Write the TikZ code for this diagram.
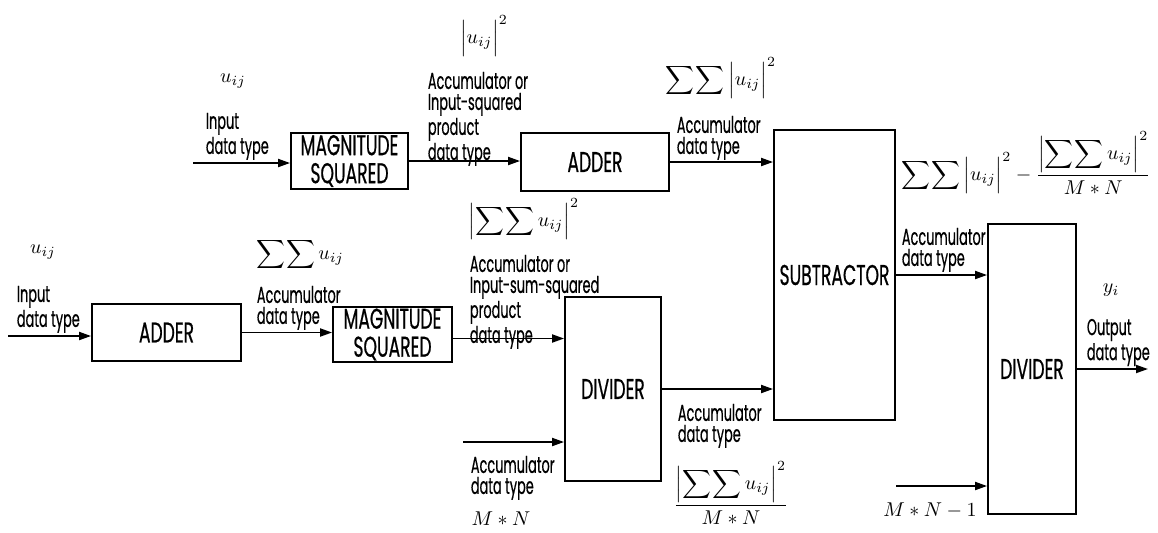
\documentclass[tikz,border=0pt]{standalone}
\usepackage{amsmath}
\usepackage{fontspec}
\newfontfamily\blockfont[FakeStretch=0.6,FakeBold=0.6]{Poppins}
\newfontfamily\notefont[FakeStretch=0.56,FakeBold=0.5]{Poppins}
\usetikzlibrary{arrows.meta}
\newcommand\absq[1]{\left|\vrule height 12pt depth 6.5pt width 0pt #1\right|^2}
\newcommand\ssum{\sum\mkern-2mu\sum}

\begin{document}
\begin{tikzpicture}[x=0.5pt,y=-0.5pt,line width=0.9pt,
  block/.style={draw,inner sep=0pt,align=center,font=\blockfont\fontsize{14.3}{14}\selectfont},
  lbl/.style={anchor=north west,inner sep=0pt,align=left,font=\notefont\fontsize{11.5}{10.5}\selectfont},
  eqn/.style={inner sep=0pt,font=\fontsize{10.3}{12}\selectfont},
  flow/.style={-{Triangle[length=6pt,width=4pt]}}]
\useasboundingbox (0,0) rectangle (1158,532);

\node[block,minimum width=58.5pt,minimum height=28pt] (mag1) at (349.5,161) {MAGNITUDE\\SQUARED};
\node[block,minimum width=74pt,minimum height=29pt] (add1) at (595,162) {ADDER};
\node[block,minimum width=60.5pt,minimum height=145pt] (sub) at (834.5,275) {SUBTRACTOR};
\node[block,minimum width=44pt,minimum height=145pt] (div2) at (1032,369) {DIVIDER};
\node[block,minimum width=74.5pt,minimum height=28.5pt] (add2) at (166.5,332.5) {ADDER};
\node[block,minimum width=59.5pt,minimum height=27.5pt] (mag2) at (392.5,334.5) {MAGNITUDE\\SQUARED};
\node[block,minimum width=48pt,minimum height=92pt] (div1) at (613,389) {DIVIDER};

\coordinate (in1) at (193,163);
\coordinate (in2) at (8,336);
\coordinate (mnin) at (463,442);
\coordinate (mn1in) at (896,486);
\coordinate (out) at (1148,369);

\draw[flow] (in1) -- (in1 -| mag1.west);
\draw[flow] (mag1.east) -- (mag1.east -| add1.west);
\draw[flow] (add1.east) -- (add1.east -| sub.west);
\draw[flow] (in2) -- (in2 -| add2.west);
\draw[flow] (add2.east) -- (add2.east -| mag2.west);
\draw[flow] ([yshift=-2pt]mag2.east) -- ([yshift=-2pt]mag2.east -| div1.west);
\draw[flow] (mnin) -- (mnin -| div1.west);
\draw[flow] (div1.east) -- (div1.east -| sub.west);
\draw[flow] (sub.east) -- (sub.east -| div2.west);
\draw[flow] (mn1in) -- (mn1in -| div2.west);
\draw[flow] (div2.east) -- (out);

\node[lbl] (t1) at (205,112) {Input\\data type};
\node[lbl] (t2) at (427,71) {Accumulator or\\Input-squared\\product\\data type};
\node[lbl] (t3) at (676,115) {Accumulator\\data type};
\node[lbl] (t4) at (16,285) {Input\\data type};
\node[lbl] (t5) at (256,285) {Accumulator\\data type};
\node[lbl] (t6) at (469,254) {Accumulator or\\Input-sum-squared\\product\\data type};
\node[lbl] (t7) at (470,455) {Accumulator\\data type};
\node[lbl] (t8) at (677,403) {Accumulator\\data type};
\node[lbl] (t9) at (901,227) {Accumulator\\data type};
\node[lbl] (t10) at (1086,318) {Output\\data type};

\node[eqn] (uin1) at (233,81) {$u_{ij}$};
\node[eqn] (sq1) at (484,36) {$\absq{u_{ij}}$};
\node[eqn] (sumsq) at (721,78) {$\displaystyle\ssum\absq{u_{ij}}$};
\node[eqn] (var) at (1026,163) {$\displaystyle\ssum\absq{u_{ij}}-\frac{\absq{\displaystyle\ssum u_{ij}}}{M*N}$};
\node[eqn] (uin2) at (43,252) {$u_{ij}$};
\node[eqn] (sum2) at (300,254) {$\displaystyle\ssum u_{ij}$};
\node[eqn] (sumsq2) at (524,219) {$\displaystyle\absq{\ssum u_{ij}}$};
\node[eqn] (mean) at (731,493) {$\displaystyle\frac{\absq{\displaystyle\ssum u_{ij}}}{M*N}$};
\node[eqn] (mn) at (501,519) {$M*N$};
\node[eqn] (mn1) at (930,510) {$M*N-1$};
\node[eqn] (yout) at (1111,290) {$y_i$};
\end{tikzpicture}
\end{document}
